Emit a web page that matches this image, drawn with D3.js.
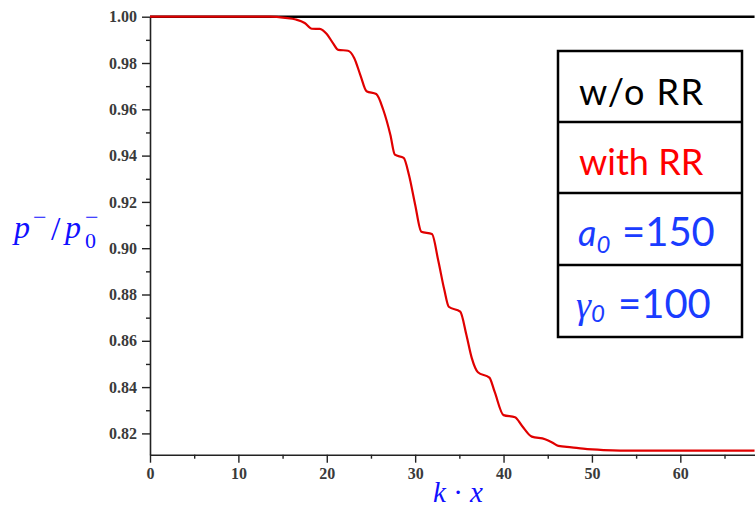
<!DOCTYPE html>
<html>
<head>
<meta charset="utf-8">
<style>
  body { margin: 0; background: #fff; }
  svg { display: block; }
  .legend text { font-family: Lato, "Open Sans", sans-serif; font-size: 36px; }
</style>
</head>
<body>
<div id="chartContainer"></div>
<script src="https://cdn.jsdelivr.net/npm/d3@7"></script>
<script>
// data
var kx = [0, 13.6, 15.3, 16.5, 17.5, 18.3, 19.2, 20.0, 20.7, 21.3, 22.4, 23.1, 23.8, 24.5,
  25.6, 26.4, 27.2, 27.7, 28.7, 29.3, 30.0, 30.7, 31.9, 32.6, 33.3, 33.8, 35.1, 35.8,
  36.4, 37.1, 38.4, 39.0, 40.0, 41.3, 42.1, 43.2, 44.7, 45.5, 46.2, 47.7, 49.0, 51.3,
  53.2, 68.4];
var withRR = [1.0, 1.0, 0.9995, 0.9988, 0.9973, 0.9948, 0.9947, 0.9925, 0.9886, 0.9857,
  0.9853, 0.9822, 0.9748, 0.9678, 0.9666, 0.9597, 0.9489, 0.9404, 0.9390, 0.9316,
  0.9188, 0.9071, 0.9061, 0.8949, 0.8820, 0.8747, 0.8726, 0.8625, 0.8526, 0.8464,
  0.8441, 0.8379, 0.8279, 0.8270, 0.8232, 0.8186, 0.8175, 0.8161, 0.8146, 0.8140,
  0.8134, 0.8128, 0.8126, 0.8126];
var woRRx = [0, 68.4];
var woRR = [1.0, 1.0];

var xMajor = [0, 10, 20, 30, 40, 50, 60];
var xMinor = [5, 15, 25, 35, 45, 55, 65];
var yMajor = [0.82, 0.84, 0.86, 0.88, 0.90, 0.92, 0.94, 0.96, 0.98, 1.00];
var yMinor = [0.83, 0.85, 0.87, 0.89, 0.91, 0.93, 0.95, 0.97, 0.99];

var svg = d3.select("#chartContainer").append("svg")
  .attr("width", 755).attr("height", 509);

var x = d3.scaleLinear().domain([0, 68.45]).range([150, 755]);
var y = d3.scaleLinear().domain([0.8108, 1.0]).range([454.7, 16.7]);

// minor ticks
svg.append("g").attr("transform", "translate(0,454.7)")
  .call(d3.axisBottom(x).tickValues(xMinor).tickSize(4).tickFormat(""))
  .call(function (g) { g.select(".domain").remove(); });
svg.append("g").attr("transform", "translate(150,0)")
  .call(d3.axisLeft(y).tickValues(yMinor).tickSize(4).tickFormat(""))
  .call(function (g) { g.select(".domain").remove(); });

// major axes
var xAxis = svg.append("g").attr("transform", "translate(0,454.7)")
  .call(d3.axisBottom(x).tickValues(xMajor).tickSize(8).tickSizeOuter(0)
    .tickPadding(5).tickFormat(d3.format("d")));
var yAxis = svg.append("g").attr("transform", "translate(150,0)")
  .call(d3.axisLeft(y).tickValues(yMajor).tickSize(8).tickSizeOuter(0)
    .tickPadding(5).tickFormat(d3.format(".2f")));
svg.selectAll(".domain").attr("stroke", "#222").attr("stroke-width", 1.6);
svg.selectAll(".tick line").attr("stroke", "#222").attr("stroke-width", 1.4);
svg.selectAll(".tick text")
  .attr("font-family", "Liberation Serif").attr("font-size", 16)
  .attr("font-weight", "bold").attr("fill", "#3a3a3a");

// lines
var line = d3.line().x(function (d) { return x(d[0]); }).y(function (d) { return y(d[1]); })
  .curve(d3.curveMonotoneX);

svg.append("path")
  .datum(d3.zip(woRRx, woRR))
  .attr("fill", "none").attr("stroke", "#000").attr("stroke-width", 2.5)
  .attr("d", line);

svg.append("path")
  .datum(d3.zip(kx, withRR))
  .attr("fill", "none").attr("stroke", "#e00000").attr("stroke-width", 2.2)
  .attr("d", line);

// axis titles
var blue = "#1010ff";
var yt = svg.append("g").attr("fill", blue)
  .style("font-family", "'Liberation Serif', serif");
yt.append("text").attr("x", 14).attr("y", 238).style("font-size", "32px").style("font-style", "italic").text("p");
yt.append("text").attr("x", 33).attr("y", 225).style("font-size", "24px").text("\u2212");
yt.append("text").attr("x", 51).attr("y", 240).style("font-size", "34px").text("/");
yt.append("text").attr("x", 65).attr("y", 238).style("font-size", "32px").style("font-style", "italic").text("p");
yt.append("text").attr("x", 85).attr("y", 225).style("font-size", "24px").text("\u2212");
yt.append("text").attr("x", 85).attr("y", 248).style("font-size", "22px").text("0");

svg.append("text").attr("x", 458).attr("y", 502).attr("text-anchor", "middle")
  .attr("fill", blue)
  .style("font-family", "'Liberation Serif', serif").style("font-size", "29px")
  .html("<tspan font-style='italic'>k</tspan> \u00b7 <tspan font-style='italic'>x</tspan>");

// legend table
var rows = [51, 122, 193, 265, 337];
var lg = svg.append("g").attr("class", "legend");
lg.append("rect").attr("x", 558).attr("y", rows[0]).attr("width", 184).attr("height", rows[4] - rows[0])
  .attr("fill", "#fff").attr("stroke", "#000").attr("stroke-width", 2.5);
rows.slice(1, 4).forEach(function (r) {
  lg.append("line").attr("x1", 558).attr("x2", 742).attr("y1", r).attr("y2", r)
    .attr("stroke", "#000").attr("stroke-width", 2.5);
});
var legBlue = "#1a3cff";
lg.append("text").attr("x", 579).attr("y", 105).attr("fill", "#000")
  .attr("letter-spacing", "1.5px").text("w/o RR");
lg.append("text").attr("x", 579).attr("y", 175).attr("fill", "#ff0000").text("with RR");
lg.append("text").attr("x", 578).attr("y", 246).attr("fill", legBlue)
  .html("<tspan font-style='italic'>a</tspan><tspan font-style='italic' font-size='24px' dy='7'>0</tspan>" +
        "<tspan x='622' dy='-7' font-size='40px'>=150</tspan>");
lg.append("text").attr("x", 576).attr("y", 318).attr("fill", legBlue)
  .html("<tspan font-style='italic' font-family='Liberation Serif' font-size='38px'>\u03b3</tspan>" +
        "<tspan font-style='italic' font-size='24px' dy='4'>0</tspan>" +
        "<tspan x='618' dy='-4' font-size='40px'>=100</tspan>");
</script>
</body>
</html>
